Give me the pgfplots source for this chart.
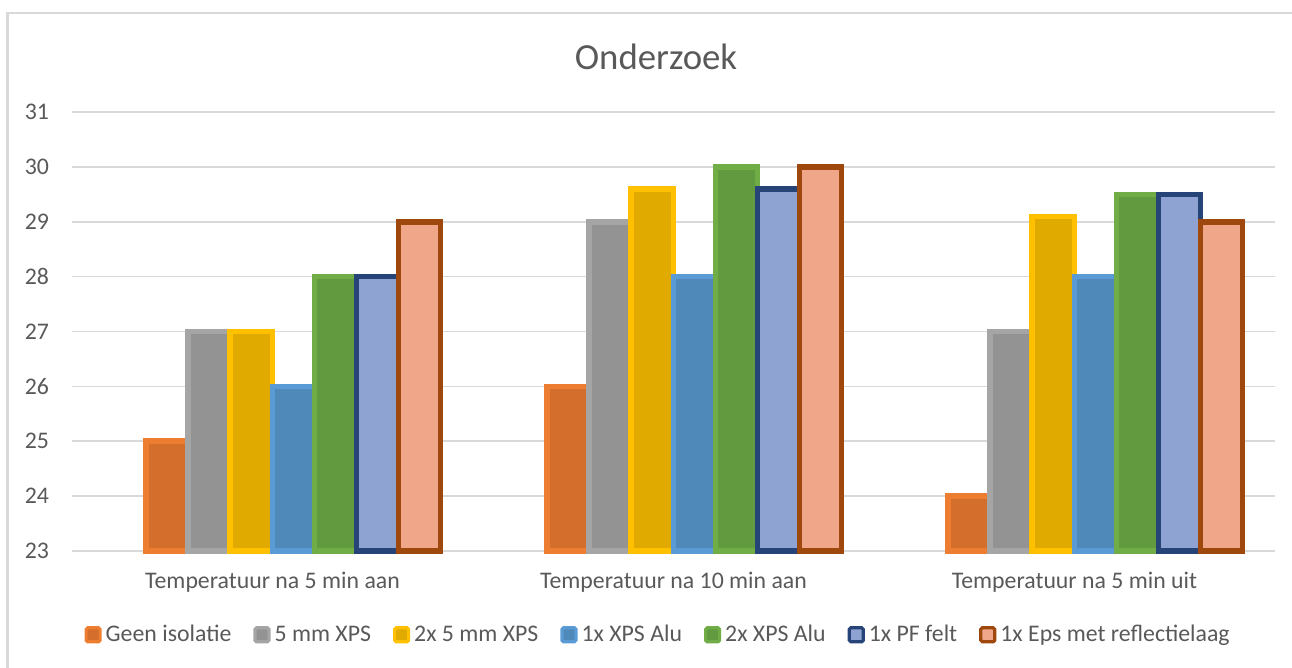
\documentclass[border=0pt]{standalone}
\usepackage{pgfplots}
\pgfplotsset{compat=1.18}
\usepackage{fontspec}
\setmainfont{Carlito}
\definecolor{txt}{HTML}{595959}
\definecolor{grd}{HTML}{D9D9D9}
\definecolor{bA}{HTML}{ED7D31}\definecolor{fA}{HTML}{D46E2C}
\definecolor{bB}{HTML}{A5A5A5}\definecolor{fB}{HTML}{939393}
\definecolor{bC}{HTML}{FFC000}\definecolor{fC}{HTML}{E0AA00}
\definecolor{bD}{HTML}{5B9BD5}\definecolor{fD}{HTML}{4F89BA}
\definecolor{bE}{HTML}{70AD47}\definecolor{fE}{HTML}{629A3F}
\definecolor{bF}{HTML}{264478}\definecolor{fF}{HTML}{8FA3D3}
\definecolor{bG}{HTML}{9E480E}\definecolor{fG}{HTML}{F0A789}
\begin{document}
\begin{tikzpicture}
\begin{axis}[
  scale only axis,
  width=601.5pt, height=219.5pt,
  at={(0,0)}, anchor=south west,
  ymin=23, ymax=31, ytick={23,24,...,31},
  xmin=-0.5, xmax=2.5,
  xtick={0,1,2},
  xticklabels={Temperatuur na 5 min aan,Temperatuur na 10 min aan,Temperatuur na 5 min uit},
  major tick length=0pt,
  axis line style={draw=none},
  ymajorgrids, grid style={grd, line width=0.75pt},
  ybar=0pt, bar width=21.05pt,
  clip=false,
  font=\fontsize{11.9}{14}\selectfont,
  tick label style={text=txt, font=\fontsize{11.9}{14}\selectfont},
  /pgf/number format/assume math mode=true,
  yticklabel style={xshift=-8pt},
  xticklabel style={yshift=-7pt},
  every axis plot/.append style={line width=2.75pt},
  legend columns=7,
  legend style={draw=none, fill=none, text=txt, font=\fontsize{11.9}{14}\selectfont,
    at={(0.488,-0.191)}, anchor=center,
    /tikz/every even column/.append style={column sep=9pt},
    /tikz/every odd column/.append style={column sep=0pt},
    inner sep=0pt},
  legend image code/.code={\draw[#1,line width=1.6pt,rounded corners=0.8pt] (0pt,-3.5pt) rectangle (7pt,3.5pt);},
]
\addplot[draw=bA, fill=fA] coordinates {(0.052,25) (1.052,26) (2.052,24)};
\addplot[draw=bB, fill=fB] coordinates {(0.052,27) (1.052,29) (2.052,27)};
\addplot[draw=bC, fill=fC] coordinates {(0.052,27) (1.052,29.6) (2.052,29.1)};
\addplot[draw=bD, fill=fD] coordinates {(0.052,26) (1.052,28) (2.052,28)};
\addplot[draw=bE, fill=fE] coordinates {(0.052,28) (1.052,30) (2.052,29.5)};
\addplot[draw=bF, fill=fF] coordinates {(0.052,28) (1.052,29.6) (2.052,29.5)};
\addplot[draw=bG, fill=fG] coordinates {(0.052,29) (1.052,30) (2.052,29)};
\legend{Geen isolatie,5 mm XPS,2x 5 mm XPS,1x XPS Alu,2x XPS Alu,1x PF felt,1x Eps met reflectielaag}
\end{axis}
\node[anchor=base, text=txt, font=\fontsize{18.4}{21}\selectfont] at (292pt,240.9pt) {Onderzoek};
\draw[grd, line width=1.1pt] (-32.25pt,-58.5pt) -- (-32.25pt,269pt) -- (610pt,269pt);
\pgfresetboundingbox
\path (-36pt,-58.5pt) rectangle (610pt,275.5pt);
\end{tikzpicture}
\end{document}
